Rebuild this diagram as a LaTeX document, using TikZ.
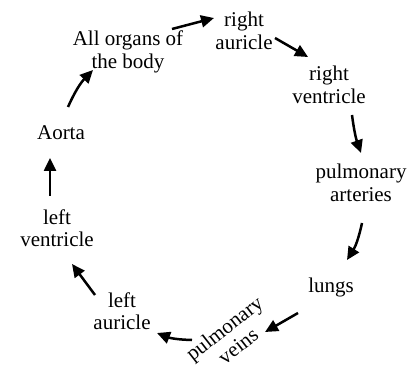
\documentclass[tikz,border=0pt]{standalone}
\usepackage{fontspec}
\setmainfont{Liberation Serif}
\usetikzlibrary{arrows.meta}
\begin{document}
\begin{tikzpicture}[x=1pt,y=1pt,
  lbl/.style={inner sep=0pt,align=center,font=\fontsize{21}{22.5}\selectfont},
  arr/.style={line width=2.5pt,-{Triangle[length=13pt,width=12pt]}}]
\useasboundingbox (0,0) rectangle (419,364);
\node[lbl] (ao) at (128,312) {All organs of\\the body};
\node[lbl] (ra) at (244,333) {right\\auricle};
\node[lbl] (rv) at (329,279) {right\\ventricle};
\node[lbl] (pa) at (361,181) {pulmonary\\arteries};
\node[lbl] (lungs) at (331,77) {lungs};
\node[lbl,rotate=38] (pv) at (231,27) {pulmonary\\veins};
\node[lbl] (la) at (122,53) {left\\auricle};
\node[lbl] (lv) at (57,136) {left\\ventricle};
\node[lbl] (aorta) at (61,231) {Aorta};
\draw[arr] ([shift={(44,23)}]ao.center) to ([shift={(-30,13)}]ra.center);
\draw[arr] ([shift={(31,-7)}]ra.center) to ([shift={(-21,28)}]rv.center);
\draw[arr] ([shift={(23,-30)}]rv.center) to[bend right=6] ([shift={(0,30)}]pa.center);
\draw[arr] ([shift={(1,-40)}]pa.center) to[bend left=10] ([shift={(16,27)}]lungs.center);
\draw[arr] ([shift={(-33,-26)}]lungs.center) to ([shift={(34,5)}]pv.center);
\draw[arr] ([shift={(-39,-3)}]pv.center) to[bend left=10] ([shift={(35,-22)}]la.center);
\draw[arr] ([shift={(-27,16)}]la.center) to ([shift={(15,-36)}]lv.center);
\draw[arr] ([shift={(-7,32)}]lv.center) to ([shift={(-11,-25)}]aorta.center);
\draw[arr] ([shift={(7,26)}]aorta.center) to[bend left=10] ([shift={(-35,-18)}]ao.center);
\end{tikzpicture}
\end{document}
